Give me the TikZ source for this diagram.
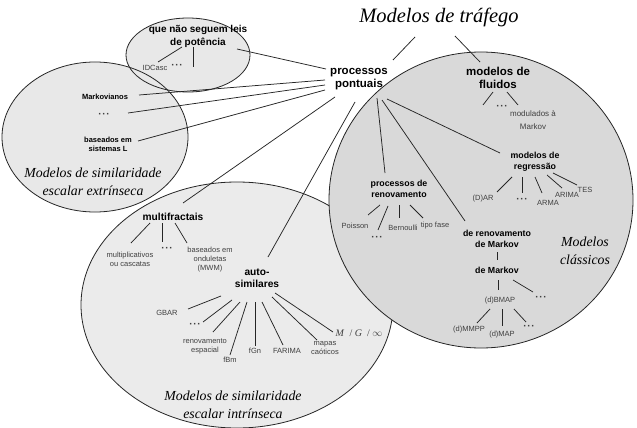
\documentclass[tikz,border=0pt]{standalone}
\usepackage{fontspec}
\newfontfamily\arialf{Liberation Sans}
\newfontfamily\scriptf{Liberation Serif}
\usetikzlibrary{shapes.geometric}
\tikzset{
  lnk/.style={draw=black!85, line width=0.75pt},
  blob/.style={draw=black!85, line width=0.8pt},
  bigl/.style={font=\arialf\bfseries\fontsize{11.5}{13}\selectfont, align=center, inner sep=1pt},
  midl/.style={font=\arialf\bfseries\fontsize{10.2}{11.5}\selectfont, align=center, inner sep=1pt},
  potl/.style={font=\arialf\bfseries\fontsize{10}{13}\selectfont, align=center, inner sep=1pt},
  subl/.style={font=\arialf\bfseries\fontsize{8.8}{11}\selectfont, align=center, inner sep=1pt},
  tinyb/.style={font=\arialf\bfseries\fontsize{7.5}{9}\selectfont, align=center, inner sep=1pt},
  lbl/.style={font=\arialf\fontsize{7.5}{9}\selectfont, text=black!75, align=center, inner sep=1pt},
  dts/.style={font=\arialf\bfseries\fontsize{10}{10}\selectfont, text=black!75, inner sep=1pt},
  ttl/.style={font=\scriptf\itshape\fontsize{13.8}{17.5}\selectfont, align=center, inner sep=0pt},
}
\newcommand{\tdots}{\textperiodcentered\kern0.6pt\textperiodcentered\kern0.6pt\textperiodcentered}
\begin{document}
\begin{tikzpicture}[x=1pt,y=-1pt]
\useasboundingbox (0,0) rectangle (637,428);
\fill[white] (0,0) rectangle (637,428);
% regions
\filldraw[blob, fill=black!8] (237,305) ellipse [x radius=156pt, y radius=123pt];
\filldraw[blob, fill=black!15] (481,200) ellipse [x radius=152pt, y radius=148pt];
\fill[black!9] (95,137) ellipse [x radius=93pt, y radius=75pt];
\fill[black!9] (188,55) ellipse [x radius=62pt, y radius=37pt];
\draw[blob] (95,137) ellipse [x radius=93pt, y radius=75pt];
\draw[blob] (188,55) ellipse [x radius=62pt, y radius=37pt];

% nodes
\node[font=\scriptf\itshape\fontsize{20.5}{24}\selectfont, inner sep=0pt] (title) at (439,17) {Modelos de tráfego};
\node[bigl] (pp) at (359,79) {processos\\pontuais};
\node[bigl] (fl) at (498,78) {modelos de\\fluidos};
\node[dts] (dotsF) at (502,107) {\tdots};
\node[lbl, font=\arialf\fontsize{8}{13}\selectfont] (mod) at (533,120) {modulados à\\Markov};

\node[potl] (pot) at (198,36) {que não seguem leis\\de potência};
\node[lbl] (idc) at (155,68) {IDCasc};
\node[dts] (dotsP) at (177,66) {\tdots};
\coordinate (potend) at (193,67);

\node[tinyb] (mark) at (105,97) {Markovianos};
\node[dts] (dotsL) at (104,115) {\tdots};
\node[tinyb] (basL) at (108,144) {baseados em\\sistemas L};
\node[ttl] (extr) at (93,182) {Modelos de similaridade\\escalar extrínseca};

\node[midl] (mf) at (173,217) {multifractais};
\node[lbl] (mult) at (130,259) {multiplicativos\\ou cascatas};
\node[dts] (dotsM) at (167,249) {\tdots};
\node[lbl] (bond) at (210,260) {baseados em\\onduletas\\(MWM)};

\node[midl] (as) at (257,278) {auto-\\similares};
\node[lbl] (gbar) at (167,313) {GBAR};
\node[dts] (dotsA) at (195,325) {\tdots};
\node[lbl] (renesp) at (205,346) {renovamento\\espacial};
\node[lbl] (fbm) at (230,360) {fBm};
\node[lbl] (fgn) at (255,351) {fGn};
\node[lbl] (farima) at (287,351) {FARIMA};
\node[lbl] (mapas) at (325,348) {mapas\\caóticos};
\node[text=black!75, font=\scriptf\fontsize{10}{10}\selectfont, inner sep=1pt] (mginf) at (359,333) {\textit{M}\ \ /\ \textit{G}\ \ /\ $\infty$};
\node[ttl] (intr) at (233,405) {Modelos de similaridade\\escalar intrínseca};

\node[subl] (ren) at (399,189) {processos de\\renovamento};
\node[lbl] (poi) at (355,226) {Poisson};
\node[dts] (dotsR) at (377,238) {\tdots};
\node[lbl] (ber) at (403,228) {Bernoulli};
\node[lbl] (tf) at (435,226) {tipo fase};

\node[subl] (reg) at (535,162) {modelos de\\regressão};
\node[lbl] (dar) at (483,199) {(D)AR};
\node[dts] (dotsG) at (522,200) {\tdots};
\node[lbl] (arma) at (548,203) {ARMA};
\node[lbl] (arima) at (567,195) {ARIMA};
\node[lbl] (tes) at (585,190) {TES};

\node[subl] (drm) at (497,239) {de renovamento\\de Markov};
\node[subl] (dm) at (497,270) {de Markov};
\node[lbl] (bmap) at (500,301) {(d)BMAP};
\node[dts] (dotsK) at (541,298) {\tdots};
\node[lbl] (mmpp) at (469,330) {(d)MMPP};
\node[lbl] (map) at (502,335) {(d)MAP};
\node[dts] (dotsB) at (529,327) {\tdots};
\node[ttl] (clas) at (585,251) {Modelos\\clássicos};

% connectors
\draw[lnk] ([shift={(-24,20)}]title.center) -- ([shift={(34,-19)}]pp.center);
\draw[lnk] ([shift={(16,19)}]title.center) -- ([shift={(-18,-16)}]fl.center);
\draw[lnk] ([shift={(-33,-10)}]pp.center) -- ([shift={(39,13)}]pot.center);
\draw[lnk] ([shift={(-34,1)}]pp.center) -- ([shift={(34,-2)}]mark.center);
\draw[lnk] ([shift={(-34,6)}]pp.center) -- ([shift={(24,-2)}]dotsL.center);
\draw[lnk] ([shift={(-34,11)}]pp.center) -- ([shift={(30,-3)}]basL.center);
\draw[lnk] ([shift={(-24,18)}]pp.center) -- ([shift={(10,-14)}]mf.center);
\draw[lnk] ([shift={(-4,23)}]pp.center) -- ([shift={(11,-21)}]as.center);
\draw[lnk] ([shift={(18,19)}]pp.center) -- ([shift={(-14,-16)}]ren.center);
\draw[lnk] ([shift={(23,21)}]pp.center) -- ([shift={(-32,-18)}]drm.center);
\draw[lnk] ([shift={(28,20)}]pp.center) -- ([shift={(-35,-9)}]reg.center);

\draw[lnk] ([shift={(-5,14)}]fl.center) -- (483,105) coordinate (flend);
\draw[lnk] ([shift={(9,14)}]fl.center) -- ([shift={(-15,-15)}]mod.center);

\draw[lnk] ([shift={(-16,11)}]pot.center) -- ([shift={(3,-6)}]idc.center);
\draw[lnk] ([shift={(-5,11)}]pot.center) -- (potend);

\draw[lnk] ([shift={(-23,6)}]mf.center) -- ([shift={(1,-16)}]mult.center);
\draw[lnk] ([shift={(-11,6)}]mf.center) -- ([shift={(-5,-7)}]dotsM.center);
\draw[lnk] ([shift={(2,6)}]mf.center) -- ([shift={(-23,-17)}]bond.center);

\draw[lnk] ([shift={(-36,18)}]as.center) -- ([shift={(21,-4)}]gbar.center);
\draw[lnk] ([shift={(-25,22)}]as.center) -- ([shift={(8,-3)}]dotsA.center);
\draw[lnk] ([shift={(-17,24)}]as.center) -- ([shift={(8,-14)}]renesp.center);
\draw[lnk] ([shift={(-10,24)}]as.center) -- ([shift={(0,-5)}]fbm.center);
\draw[lnk] ([shift={(-2,24)}]as.center) -- ([shift={(0,-5)}]fgn.center);
\draw[lnk] ([shift={(5,24)}]as.center) -- ([shift={(-4,-6)}]farima.center);
\draw[lnk] ([shift={(15,19)}]as.center) -- ([shift={(-8,-8)}]mapas.center);
\draw[lnk] ([shift={(18,15)}]as.center) -- ([shift={(-26,-1)}]mginf.center);

\draw[lnk] ([shift={(-19,16)}]ren.center) -- ([shift={(13,-11)}]poi.center);
\draw[lnk] ([shift={(-11,17)}]ren.center) -- ([shift={(1,-8)}]dotsR.center);
\draw[lnk] ([shift={(0,16)}]ren.center) -- ([shift={(-4,-10)}]ber.center);
\draw[lnk] ([shift={(11,16)}]ren.center) -- ([shift={(-12,-8)}]tf.center);

\draw[lnk] ([shift={(-23,15)}]reg.center) -- ([shift={(14,-7)}]dar.center);
\draw[lnk] ([shift={(-13,15)}]reg.center) -- ([shift={(0,-7)}]dotsG.center);
\draw[lnk] ([shift={(0,15)}]reg.center) -- ([shift={(-6,-10)}]arma.center);
\draw[lnk] ([shift={(12,13)}]reg.center) -- ([shift={(-5,-7)}]arima.center);
\draw[lnk] ([shift={(18,11)}]reg.center) -- ([shift={(-8,-5)}]tes.center);

\draw[lnk] ([shift={(0,13)}]drm.center) -- ([shift={(0,-10)}]dm.center);
\draw[lnk] ([shift={(1,10)}]dm.center) -- ([shift={(-2,-11)}]bmap.center);
\draw[lnk] ([shift={(16,10)}]dm.center) -- ([shift={(-8,-6)}]dotsK.center);
\draw[lnk] ([shift={(-10,8)}]bmap.center) -- ([shift={(8,-7)}]mmpp.center);
\draw[lnk] ([shift={(2,8)}]bmap.center) -- ([shift={(0,-9)}]map.center);
\draw[lnk] ([shift={(14,8)}]bmap.center) -- ([shift={(-3,-5)}]dotsB.center);
\end{tikzpicture}
\end{document}
